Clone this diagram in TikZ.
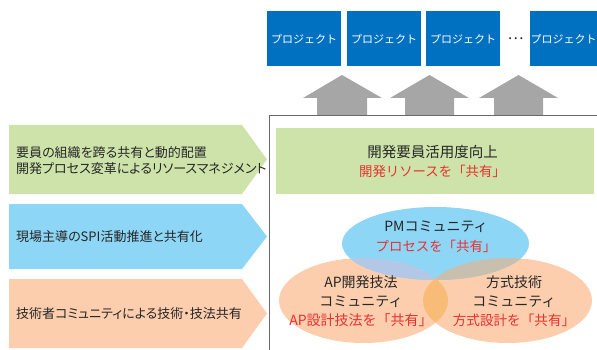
\documentclass[tikz,border=0pt]{standalone}
\usepackage{fontspec}
\setmainfont{Noto Sans CJK JP}
\newfontfamily\paltfont[RawFeature=+palt]{Noto Sans CJK JP}
\definecolor{projblue}{RGB}{0,112,192}
\definecolor{arrgray}{RGB}{166,166,166}
\definecolor{lgreen}{RGB}{205,227,170}
\definecolor{lblue}{RGB}{142,214,246}
\definecolor{lorange}{RGB}{252,206,174}
\definecolor{txtgray}{RGB}{38,38,38}
\definecolor{txtred}{RGB}{232,48,48}
\definecolor{ovlblue}{RGB}{178,200,230}
\definecolor{ovltan}{RGB}{200,191,175}
\definecolor{ovlorange}{RGB}{249,188,120}
\definecolor{framegray}{RGB}{105,105,105}
\def\ellPM{(435.5,243.5) ellipse [x radius=93.5pt, y radius=36.5pt]}
\def\ellAP{(363.5,300.5) ellipse [x radius=84.5pt, y radius=42.5pt]}
\def\ellHS{(507.5,300.5) ellipse [x radius=84.5pt, y radius=42.5pt]}
\begin{document}
\begin{tikzpicture}[x=1pt,y=-1pt,
  proj/.style={fill=projblue, text=white, minimum height=55pt, inner sep=0pt,
    font=\fontsize{11}{12}\selectfont, anchor=north west},
  blockarrow/.style={fill=arrgray},
  lefttext/.style={anchor=west, inner sep=0pt, align=left, text=txtgray,
    font=\paltfont\fontsize{13}{15.5}\selectfont},
  ctext/.style={align=center, inner sep=0pt, font=\fontsize{14}{19.5}\selectfont}]
\useasboundingbox (0,0) rectangle (597,350);

% project boxes
\node[proj, minimum width=74pt] (p1) at (267,11) {プロジェクト};
\node[proj, minimum width=74pt] (p2) at (347,11) {プロジェクト};
\node[proj, minimum width=74pt] (p3) at (426,11) {プロジェクト};
\node[inner sep=0pt, text=txtgray, font=\fontsize{15}{15}\selectfont] (dots) at (515.5,38.5) {…};
\node[proj, minimum width=67pt] (p4) at (530,11) {プロジェクト};

% gray block arrows
\fill[blockarrow] (317,116) -- (317,98) -- (303,98) -- (342,75) -- (382,98) -- (367,98) -- (367,116) -- cycle;
\fill[blockarrow] (405,116) -- (405,98) -- (390,98) -- (429.5,75) -- (469,98) -- (454,98) -- (454,116) -- cycle;
\fill[blockarrow] (494,116) -- (494,98) -- (479,98) -- (518.5,75) -- (558,98) -- (543,98) -- (543,116) -- cycle;

% left pentagon arrows
\fill[lgreen] (9,125) -- (242,125) -- (267,159.5) -- (242,194) -- (9,194) -- cycle;
\fill[lblue] (9,204) -- (242,204) -- (267,236.5) -- (242,269) -- (9,269) -- cycle;
\fill[lorange] (9,279) -- (242,279) -- (267,313.5) -- (242,348) -- (9,348) -- cycle;
\node[lefttext] (t1) at (16,160.5) {要員の組織を跨る共有と動的配置\\開発プロセス変革によるリソースマネジメント};
\node[lefttext] (t2) at (16,237) {現場主導のSPI活動推進と共有化};
\node[lefttext] (t3) at (16,314) {技術者コミュニティによる技術・技法共有};

% frame
\draw[framegray, line width=1.4pt] (269.5,350) -- (269.5,115.7) -- (597,115.7);

% resource box
\node[fill=lgreen, minimum width=318pt, minimum height=66pt, inner sep=0pt, anchor=north west] (res) at (276,128) {};
\node[ctext] (rtext) at (432.5,161.5) {\textcolor{txtgray}{\fontsize{14.5}{19.5}\selectfont 開発要員活用度向上}\\\textcolor{txtred}{\fontsize{13.4}{19.5}\selectfont 開発リソースを「共有」}};

% ellipses
\fill[lorange] \ellAP;
\fill[lorange] \ellHS;
\fill[lblue] \ellPM;
\begin{scope}
  \clip \ellPM;
  \fill[ovlblue] \ellAP;
  \fill[ovltan] \ellHS;
\end{scope}
\begin{scope}
  \clip \ellAP;
  \fill[ovlorange] \ellHS;
\end{scope}

\node[ctext] (pmtext) at (436,237) {\textcolor{txtgray}{PMコミュニティ}\\\textcolor{txtred}{\fontsize{13.4}{19.5}\selectfont プロセスを「共有」}};
\node[ctext, font=\fontsize{14}{19}\selectfont] (aptext) at (361,301.5) {\textcolor{txtgray}{AP開発技法}\\\textcolor{txtgray}{コミュニティ}\\\textcolor{txtred}{AP設計技法を「共有」}};
\node[ctext, font=\fontsize{14}{19}\selectfont] (hstext) at (514,301.5) {\textcolor{txtgray}{方式技術}\\\textcolor{txtgray}{コミュニティ}\\\textcolor{txtred}{\fontsize{13.6}{19}\selectfont 方式設計を「共有」}};
\end{tikzpicture}
\end{document}
